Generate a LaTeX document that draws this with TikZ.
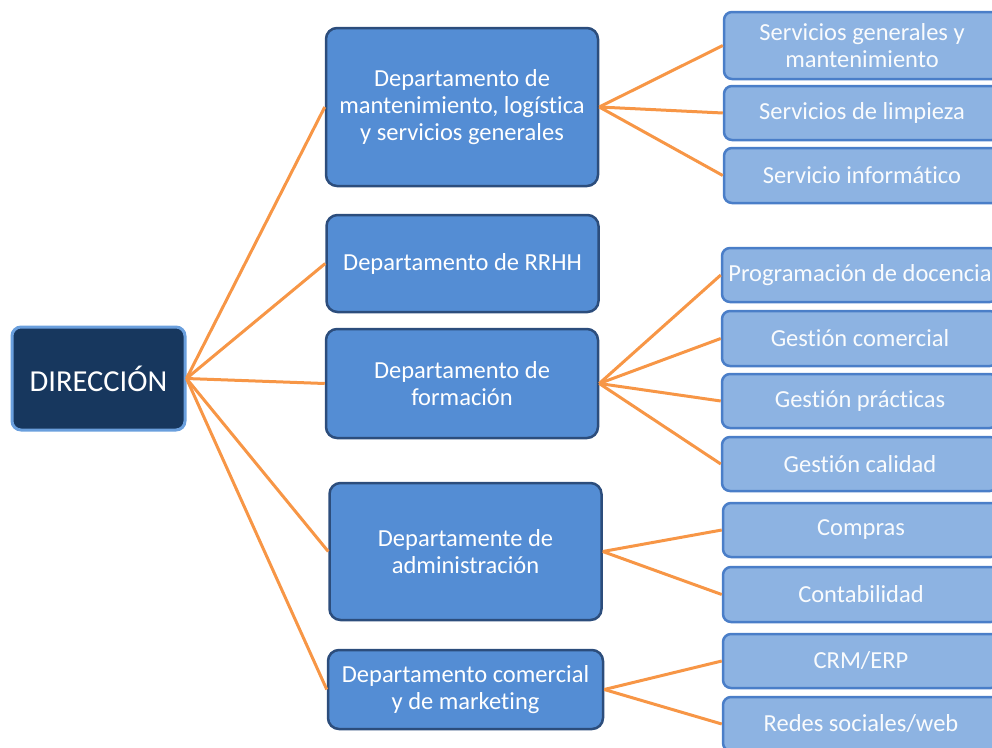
\documentclass[tikz,border=0pt]{standalone}
\usepackage{fontspec}
\setmainfont[Ligatures=NoCommon]{Carlito}
\definecolor{dirfill}{HTML}{17375E}
\definecolor{dirline}{HTML}{6A9FDD}
\definecolor{deptfill}{HTML}{548DD4}
\definecolor{deptline}{HTML}{2C4D7C}
\definecolor{subfill}{HTML}{8DB3E2}
\definecolor{subline}{HTML}{4A7EC8}
\definecolor{conn}{HTML}{F79646}

\begin{document}
\begin{tikzpicture}[x=1pt,y=-1pt,
  every node/.append style={text=white,align=center,font=\fontsize{24.5}{27}\selectfont},
  link/.style={draw=conn,line width=3pt}]
  \tikzstyle{dirbox} = [rectangle,rounded corners=9pt,fill=dirfill,draw=dirline,line width=3pt,font=\fontsize{30.5}{34}\selectfont]
  \tikzstyle{deptbox} = [rectangle,rounded corners=11pt,fill=deptfill,draw=deptline,line width=2.5pt,minimum width=272pt]
  \tikzstyle{subbox} = [rectangle,rounded corners=8pt,fill=subfill,draw=subline,line width=2.5pt,minimum width=276pt,minimum height=54pt,text=white!95!subfill]
  \clip (0,0) rectangle (992,747);
  \node (dir) [dirbox,minimum width=173pt,minimum height=103pt] at (98.5,378.5) {DIRECCIÓN};
  \node (man) [deptbox,minimum height=158pt] at (462,107) {Departamento de\\mantenimiento, logística\\y servicios generales};
  \node (rrhh) [deptbox,minimum height=97pt] at (462.5,263.5) {Departamento de RRHH};
  \node (for) [deptbox,minimum height=109pt] at (462,383.5) {Departamento de\\formación};
  \node (adm) [deptbox,minimum height=137pt] at (465.5,551.5) {Departamente de\\administración};
  \node (com) [deptbox,minimum height=79pt,minimum width=275pt] at (465.5,689.5) {Departamento comercial\\y de marketing};
  \node (man_1) [subbox,minimum height=67pt] at (862,45.5) {Servicios generales y\\mantenimiento};
  \node (man_2) [subbox] at (862,113) {Servicios de limpieza};
  \node (man_3) [subbox,minimum height=55pt] at (862,175.5) {Servicio informático};
  \node (for_1) [subbox] at (860,275) {Programación de docencia};
  \node (for_2) [subbox,minimum height=55pt] at (860,338.5) {Gestión comercial};
  \node (for_3) [subbox] at (860,401) {Gestión prácticas};
  \node (for_4) [subbox] at (860,464) {Gestión calidad};
  \node (adm_1) [subbox] at (861,530) {Compras};
  \node (adm_2) [subbox,minimum height=55pt] at (861,594.5) {Contabilidad};
  \node (com_1) [subbox] at (861,661) {CRM/ERP};
  \node (com_2) [subbox] at (861,724) {Redes sociales/web};
  \foreach \d in {man,rrhh,for,adm,com}
    \draw[link] (dir.east) -- (\d.west);
  \foreach \s in {1,2,3}
    \draw[link] (man.east) -- (man_\s.west);
  \foreach \s in {1,...,4}
    \draw[link] (for.east) -- (for_\s.west);
  \foreach \s in {1,2}
    \draw[link] (adm.east) -- (adm_\s.west);
  \foreach \s in {1,2}
    \draw[link] (com.east) -- (com_\s.west);
\end{tikzpicture}
\end{document}
